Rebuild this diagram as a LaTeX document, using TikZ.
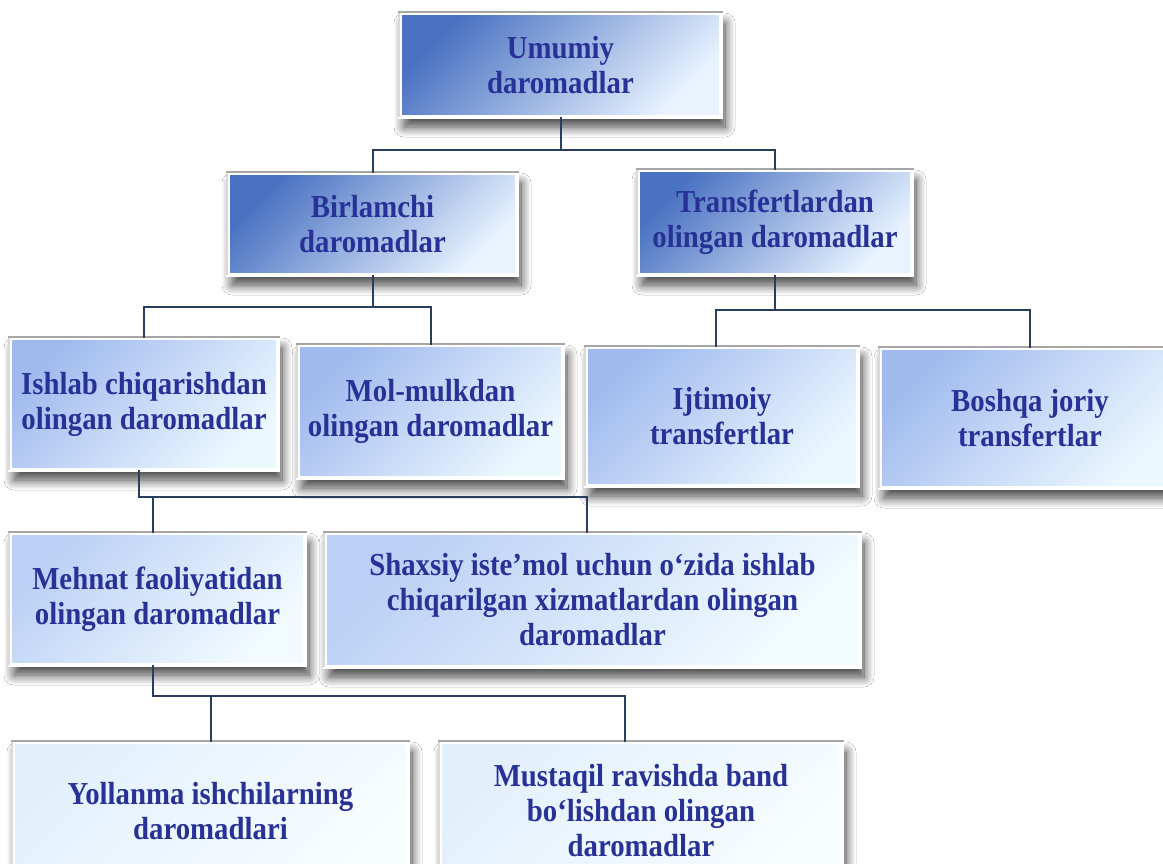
\documentclass[tikz,border=0pt]{standalone}
\usepackage{fontspec}
\setmainfont{Liberation Serif}[FakeStretch=0.9]
\usetikzlibrary{shadows.blur}
\definecolor{txt}{RGB}{40,50,150}
\definecolor{conn}{RGB}{40,62,92}
\definecolor{aTop}{RGB}{74,114,194}
\definecolor{aBot}{RGB}{232,243,255}
\definecolor{bTop}{RGB}{160,186,238}
\definecolor{bBot}{RGB}{236,248,255}
\definecolor{cTop}{RGB}{186,208,244}
\definecolor{cBot}{RGB}{242,251,255}
\definecolor{dTop}{RGB}{226,240,252}
\definecolor{dBot}{RGB}{248,253,255}
\tikzset{
  box/.style={draw=white, line width=4pt, align=center, text=txt,
    font=\bfseries\fontsize{32}{35}\selectfont, inner sep=0pt, outer sep=0pt,
    blur shadow={shadow xshift=4pt, shadow yshift=-10pt, shadow blur radius=10pt, shadow blur steps=14, shadow opacity=75}},
  rowA/.style={box, top color=aTop, bottom color=aBot, shading angle=45},
  rowB/.style={box, top color=bTop, bottom color=bBot, shading angle=45},
  rowC/.style={box, top color=cTop, bottom color=cBot, shading angle=45},
  rowD/.style={box, top color=dTop, bottom color=dBot, shading angle=45},
  wire/.style={draw=conn, line width=2pt},
  topedge/.style={draw=gray!70, line width=2.5pt},
  leftedge/.style={draw=gray!30, line width=2pt}
}
\begin{document}
\begin{tikzpicture}[x=1pt,y=-1pt]
\useasboundingbox[fill=white] (0,0) rectangle (1163,864);
\node[rowA, minimum width=321, minimum height=104] (u) at (560.5,65) {Umumiy\\daromadlar};
\node[rowA, minimum width=289, minimum height=102] (b) at (372.5,224) {Birlamchi\\daromadlar};
\node[rowA, minimum width=274, minimum height=105] (t) at (775,222.5) {Transfertlardan\\olingan daromadlar};
\node[rowB, minimum width=268, minimum height=132] (i) at (144,404) {Ishlab chiqarishdan\\olingan daromadlar};
\node[rowB, minimum width=265, minimum height=133] (m) at (430.5,411.5) {Mol-mulkdan\\olingan daromadlar};
\node[rowB, minimum width=272, minimum height=139] (ij) at (722,416.5) {Ijtimoiy\\transfertlar};
\node[rowB, minimum width=300, minimum height=140] (bo) at (1030,418) {Boshqa joriy\\transfertlar};
\node[rowC, minimum width=295, minimum height=132] (me) at (157.5,599) {Mehnat faoliyatidan\\olingan daromadlar};
\node[rowC, minimum width=535, minimum height=134] (sh) at (592.5,600) {Shaxsiy iste’mol uchun o‘zida ishlab\\chiqarilgan xizmatlardan olingan\\daromadlar};
\node[rowD, minimum width=395, minimum height=138] (y) at (210.5,811) {Yollanma ishchilarning\\daromadlari};
\node[rowD, minimum width=402, minimum height=138] (mu) at (641,811) {Mustaqil ravishda band\\bo‘lishdan olingan\\daromadlar};
% top/left bevel edges
\foreach \n in {u,b,t,i,m,ij,bo,me,sh,y,mu}{
  \draw[leftedge] ([xshift=-1pt]\n.south west) -- ([xshift=-1pt]\n.north west);
  \draw[topedge] ([xshift=-2pt,yshift=1pt]\n.north west) -- ([xshift=2pt,yshift=1pt]\n.north east);
}
% connectors
\draw[wire] (u.south) -- ++(0,33) coordinate (j1);
\draw[wire] (b.north) |- (j1) -| (t.north);
\draw[wire] (b.south) -- ++(0,32) coordinate (j2);
\draw[wire] (i.north) |- (j2) -| (m.north);
\draw[wire] (t.south) -- ++(0,35) coordinate (j3);
\draw[wire] ([xshift=-6pt]ij.north) |- (j3) -| (bo.north);
\draw[wire] ([xshift=-5pt]i.south) |- ([xshift=-5.5pt]sh.north |- 0,497) -- ([xshift=-5.5pt]sh.north);
\draw[wire] ([xshift=-4.5pt]me.north) -- ([xshift=-4.5pt]me.north |- 0,497);
\draw[wire] ([xshift=-4.5pt]me.south) |- ([xshift=-16pt]mu.north |- 0,696) -- ([xshift=-16pt]mu.north);
\draw[wire] (y.north) -- (y.north |- 0,696);
\end{tikzpicture}
\end{document}
